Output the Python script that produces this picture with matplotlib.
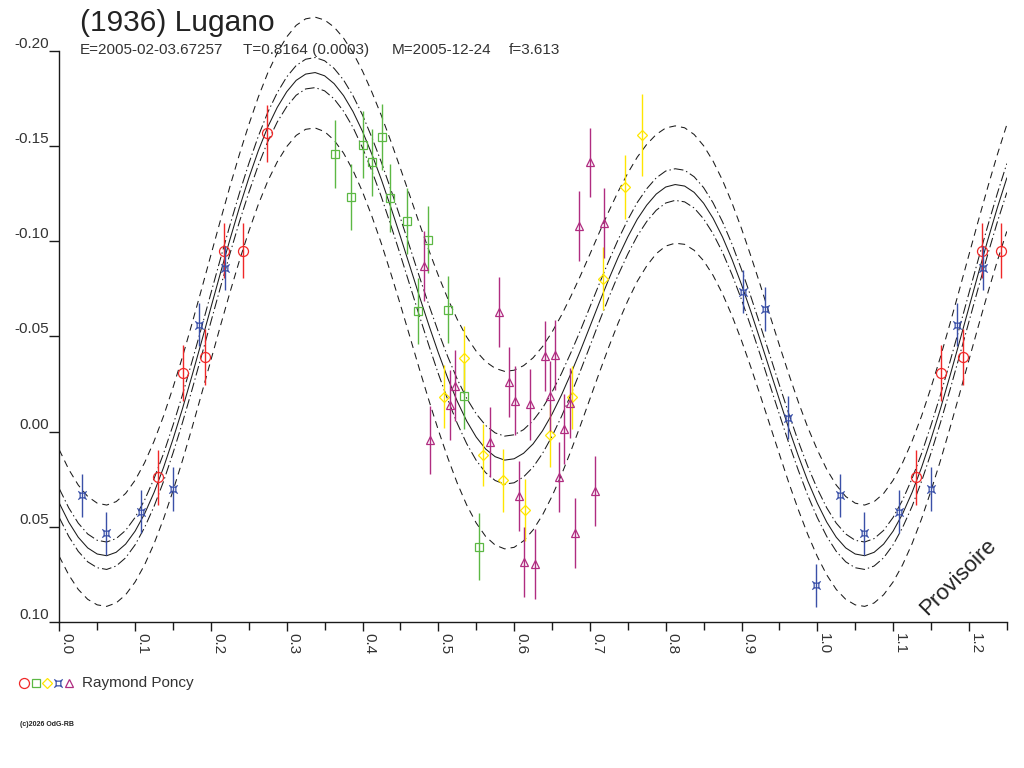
import numpy as np
import matplotlib
matplotlib.use("Agg")
import matplotlib.pyplot as plt
from matplotlib.path import Path

plt.rcParams['font.family'] = ['Liberation Sans', 'DejaVu Sans']
plt.rcParams['axes.unicode_minus'] = False
plt.rcParams['lines.scale_dashes'] = False

# ---- data -------------------------------------------------------------
# fitted lightcurve, sampled every 0.0125 in phase from 0.0 to 1.0
fit_phase = np.arange(81) * 0.0125
fit_mag = [0.0376, 0.0476, 0.0555, 0.0611, 0.0643, 0.0652, 0.0634, 0.0591, 0.0523, 0.0432,
           0.0320, 0.0189, 0.0040, -0.0120, -0.0292, -0.0470, -0.0651, -0.0831, -0.1007, -0.1175,
           -0.1331, -0.1474, -0.1599, -0.1702, -0.1784, -0.1844, -0.1877, -0.1885, -0.1868, -0.1827,
           -0.1764, -0.1680, -0.1576, -0.1455, -0.1322, -0.1176, -0.1024, -0.0868, -0.0711, -0.0559,
           -0.0414, -0.0280, -0.0159, -0.0055, 0.0029, 0.0092, 0.0132, 0.0150, 0.0143, 0.0114,
           0.0065, -0.0004, -0.0091, -0.0192, -0.0305, -0.0425, -0.0551, -0.0678, -0.0801, -0.0917,
           -0.1022, -0.1115, -0.1189, -0.1247, -0.1284, -0.1297, -0.1289, -0.1256, -0.1199, -0.1120,
           -0.1021, -0.0904, -0.0772, -0.0628, -0.0477, -0.0322, -0.0167, -0.0015, 0.0128, 0.0260,
           0.0376]
# half widths of the inner (dash-dot) and outer (dashed) envelopes
inner_hw = [0.0076, 0.0075, 0.0074, 0.0073, 0.0072, 0.0072, 0.0072, 0.0072, 0.0072, 0.0072,
            0.0073, 0.0073, 0.0073, 0.0073, 0.0074, 0.0074, 0.0075, 0.0075, 0.0075, 0.0075,
            0.0076, 0.0076, 0.0077, 0.0077, 0.0078, 0.0078, 0.0078, 0.0079, 0.0079, 0.0080,
            0.0082, 0.0083, 0.0086, 0.0088, 0.0091, 0.0094, 0.0097, 0.0100, 0.0103, 0.0106,
            0.0110, 0.0113, 0.0116, 0.0119, 0.0122, 0.0124, 0.0125, 0.0126, 0.0126, 0.0124,
            0.0122, 0.0119, 0.0116, 0.0113, 0.0110, 0.0106, 0.0103, 0.0099, 0.0096, 0.0093,
            0.0090, 0.0088, 0.0086, 0.0085, 0.0084, 0.0083, 0.0083, 0.0082, 0.0082, 0.0081,
            0.0080, 0.0080, 0.0079, 0.0079, 0.0078, 0.0078, 0.0077, 0.0077, 0.0076, 0.0076,
            0.0076]
outer_hw = [0.0280, 0.0277, 0.0274, 0.0270, 0.0267, 0.0266, 0.0266, 0.0266, 0.0267, 0.0268,
            0.0269, 0.0270, 0.0271, 0.0272, 0.0274, 0.0275, 0.0276, 0.0277, 0.0278, 0.0279,
            0.0280, 0.0282, 0.0284, 0.0286, 0.0288, 0.0289, 0.0290, 0.0291, 0.0293, 0.0297,
            0.0302, 0.0309, 0.0317, 0.0326, 0.0336, 0.0347, 0.0358, 0.0370, 0.0382, 0.0394,
            0.0406, 0.0418, 0.0430, 0.0441, 0.0451, 0.0459, 0.0464, 0.0466, 0.0465, 0.0460,
            0.0452, 0.0442, 0.0431, 0.0419, 0.0406, 0.0393, 0.0380, 0.0368, 0.0356, 0.0345,
            0.0335, 0.0326, 0.0319, 0.0313, 0.0310, 0.0308, 0.0306, 0.0304, 0.0302, 0.0300,
            0.0298, 0.0296, 0.0294, 0.0292, 0.0290, 0.0288, 0.0286, 0.0285, 0.0283, 0.0281,
            0.0280]

# observations (phase, relative magnitude, error)
red_phase = [0.1306, 0.1632, 0.1926, 0.2177, 0.2420, 0.2744]
red_mag = [0.0241, -0.0307, -0.0390, -0.0950, -0.0950, -0.1566]
red_err = [0.0146, 0.0149, 0.0146, 0.0144, 0.0145, 0.0149]

green_phase = [0.3641, 0.3852, 0.4002, 0.4121, 0.4253, 0.4367, 0.4583, 0.4868, 0.4732, 0.5132, 0.5343, 0.5533]
green_mag = [-0.1459, -0.1232, -0.1506, -0.1414, -0.1547, -0.1228, -0.1106, -0.1006, -0.0633, -0.0640, -0.0187, 0.0605]
green_err = [0.0178, 0.0175, 0.0175, 0.0176, 0.0173, 0.0178, 0.0173, 0.0176, 0.0173, 0.0177, 0.0175, 0.0175]

yellow_phase = [0.5079, 0.5343, 0.5594, 0.5854, 0.6148, 0.6474, 0.6768, 0.7173, 0.7460, 0.7683]
yellow_mag = [-0.0183, -0.0384, 0.0123, 0.0255, 0.0412, 0.0020, -0.0180, -0.0802, -0.1286, -0.1557]
yellow_err = [0.0165, 0.0168, 0.0164, 0.0166, 0.0164, 0.0164, 0.0164, 0.0166, 0.0168, 0.0217]

blue_phase = [0.0303, 0.0612, 0.1080, 0.1504, 0.1843, 0.2182, 0.9024, 0.9314, 0.9613, 0.9987]
blue_mag = [0.0335, 0.0535, 0.0421, 0.0300, -0.0561, -0.0857, -0.0734, -0.0643, -0.0073, 0.0808]
blue_err = [0.0114, 0.0114, 0.0114, 0.0116, 0.0114, 0.0116, 0.0114, 0.0114, 0.0114, 0.0114]

mag_phase = [0.4811, 0.4895, 0.5158, 0.5216, 0.5686, 0.5805, 0.5937, 0.6012, 0.6069, 0.6135, 0.6210, 0.6280,
             0.6404, 0.6478, 0.6544, 0.6596, 0.6662, 0.6742, 0.6807, 0.6860, 0.7005, 0.7071, 0.7190]
mag_mag = [-0.0869, 0.0045, -0.0139, -0.0240, 0.0054, -0.0629, -0.0262, -0.0162, 0.0339, 0.0687, -0.0144, 0.0697,
           -0.0397, -0.0187, -0.0402, 0.0241, -0.0012, -0.0151, 0.0535, -0.1081, -0.1414, 0.0311, -0.1097]
mag_err = [0.0184, 0.0180, 0.0183, 0.0186, 0.0184, 0.0184, 0.0184, 0.0181, 0.0184, 0.0184, 0.0186, 0.0184,
           0.0183, 0.0184, 0.0183, 0.0184, 0.0184, 0.0184, 0.0184, 0.0184, 0.0181, 0.0184, 0.0184]

ytick_vals = [-0.20, -0.15, -0.10, -0.05, 0.00, 0.05, 0.10]
ytick_labels = ['-0.20', '-0.15', '-0.10', '-0.05', '0.00', '0.05', '0.10']
xtick_vals = [0.0, 0.1, 0.2, 0.3, 0.4, 0.5, 0.6, 0.7, 0.8, 0.9, 1.0, 1.1, 1.2]
xtick_labels = ['0.0', '0.1', '0.2', '0.3', '0.4', '0.5', '0.6', '0.7', '0.8', '0.9', '1.0', '1.1', '1.2']

observer = 'Raymond Poncy'
title = '(1936) Lugano'
info = ['E=2005-02-03.67257', 'T=0.8164 (0.0003)', 'M=2005-12-24', 'f=3.613']

# ---- figure -----------------------------------------------------------
W, H = 1024, 768
fig = plt.figure(figsize=(W / 100, H / 100), dpi=100)
ax = fig.add_axes([59.3 / W, 1 - 622 / H, (1006.8 - 59.3) / W, 622 / H])
ax.set_xlim(0, 1.25)
ax.set_ylim(0.10, -0.2266)

# phase range 0..1.25: the first quarter of the cycle is shown again after 1.0
fit_mag = np.array(fit_mag)
inner_hw = np.array(inner_hw)
outer_hw = np.array(outer_hw)
px = np.concatenate([fit_phase, fit_phase[1:21] + 1.0])
py = np.concatenate([fit_mag, fit_mag[1:21]])
pin = np.concatenate([inner_hw, inner_hw[1:21]])
pout = np.concatenate([outer_hw, outer_hw[1:21]])

ink = '#1a1a1a'
ax.plot(px, py, color=ink, lw=0.75)
for s in (-1, 1):
    ax.plot(px, py + s * pin, color=ink, lw=0.75, ls=(0, (7, 2.2, 1, 2.2)))
    ax.plot(px, py + s * pout, color=ink, lw=0.75, ls=(0, (5, 3.6)))

# blue symbol: small square with little ticks on its corners
blue_marker = Path([(-0.45, -0.45), (0.45, -0.45), (0.45, 0.45), (-0.45, 0.45), (-0.45, -0.45),
                    (-0.45, -0.45), (-0.8, -0.8), (0.45, -0.45), (0.8, -0.8),
                    (0.45, 0.45), (0.8, 0.8), (-0.45, 0.45), (-0.8, 0.8)],
                   [Path.MOVETO, Path.LINETO, Path.LINETO, Path.LINETO, Path.LINETO,
                    Path.MOVETO, Path.LINETO, Path.MOVETO, Path.LINETO,
                    Path.MOVETO, Path.LINETO, Path.MOVETO, Path.LINETO])

groups = [
    (red_phase, red_mag, red_err, '#f02828', 'o', 7.2),
    (green_phase, green_mag, green_err, '#5cb844', 's', 5.8),
    (yellow_phase, yellow_mag, yellow_err, '#ffe600', 'D', 5.0),
    (blue_phase, blue_mag, blue_err, '#3a50a8', blue_marker, 6.0),
    (mag_phase, mag_mag, mag_err, '#b02c80', '^', 6.4),
]
for ph, mg, er, col, mk, ms in groups:
    ph = np.array(ph)
    mg = np.array(mg)
    er = np.array(er)
    rep = ph < 0.25
    x = np.concatenate([ph, ph[rep] + 1.0])
    y = np.concatenate([mg, mg[rep]])
    e = np.concatenate([er, er[rep]])
    ax.errorbar(x, y, yerr=e, fmt='none', ecolor=col, elinewidth=1.0, capsize=0)
    ax.plot(x, y, ls='none', marker=mk, ms=ms, mfc='none', mec=col, mew=0.9)

# axes cosmetics
for side in ('top', 'right'):
    ax.spines[side].set_visible(False)
ax.spines['left'].set_bounds(-0.20, 0.10)
ax.spines['left'].set_color(ink)
ax.spines['bottom'].set_color(ink)
ax.spines['left'].set_linewidth(1.0)
ax.spines['bottom'].set_linewidth(1.0)

ax.set_yticks(ytick_vals)
ax.set_yticklabels(ytick_labels, va='bottom', color='#333333', fontsize=11)
ax.tick_params(axis='y', direction='out', length=7.2, width=1.0, pad=0.5, colors=ink, labelcolor='#333333')

ax.set_xticks(xtick_vals)
ax.set_xticks(np.array(xtick_vals) + 0.05, minor=True)
ax.set_xticklabels(xtick_labels, rotation=-90, ha='left', va='top', fontsize=11, color='#333333')
ax.tick_params(axis='x', which='major', direction='out', length=6.7, width=1.0, pad=1.0, colors=ink,
               labelcolor='#333333')
ax.tick_params(axis='x', which='minor', direction='out', length=6.0, width=1.0, colors=ink)

# header texts
fig.text(79.5 / W, 1 - 31 / H, title, fontsize=21.5, color='#222222', va='baseline')
for xpos, txt in zip([79.5, 243.2, 391.5, 508.7], info):
    fig.text(xpos / W, 1 - 54 / H, txt, fontsize=11, color='#333333', va='baseline')

# legend row below the plot
lg = fig.add_axes([0, 0, 1, 1])
lg.set_xlim(0, W)
lg.set_ylim(H, 0)
lg.axis('off')
leg_items = [('#f02828', 'o', 7.2), ('#5cb844', 's', 5.8), ('#ffe600', 'D', 5.0),
             ('#3a50a8', blue_marker, 6.0), ('#b02c80', '^', 6.4)]
for i, (col, mk, ms) in enumerate(leg_items):
    lg.plot(24.3 + 11.25 * i, 683.3, marker=mk, ms=ms, mfc='none', mec=col, mew=0.9, ls='none')
lg.text(81.7, 683.3, observer, fontsize=11, color='#333333', va='center', ha='left')

fig.text(20 / W, 1 - 724 / H, '(c)2026 OdG-RB', fontsize=5, color='#222222', va='center',
         fontweight='bold')
fig.text(958 / W, 1 - 577 / H, 'Provisoire', fontsize=16, rotation=45, color='#222222',
         ha='center', va='center')

fig.savefig('out.png', dpi=100)
